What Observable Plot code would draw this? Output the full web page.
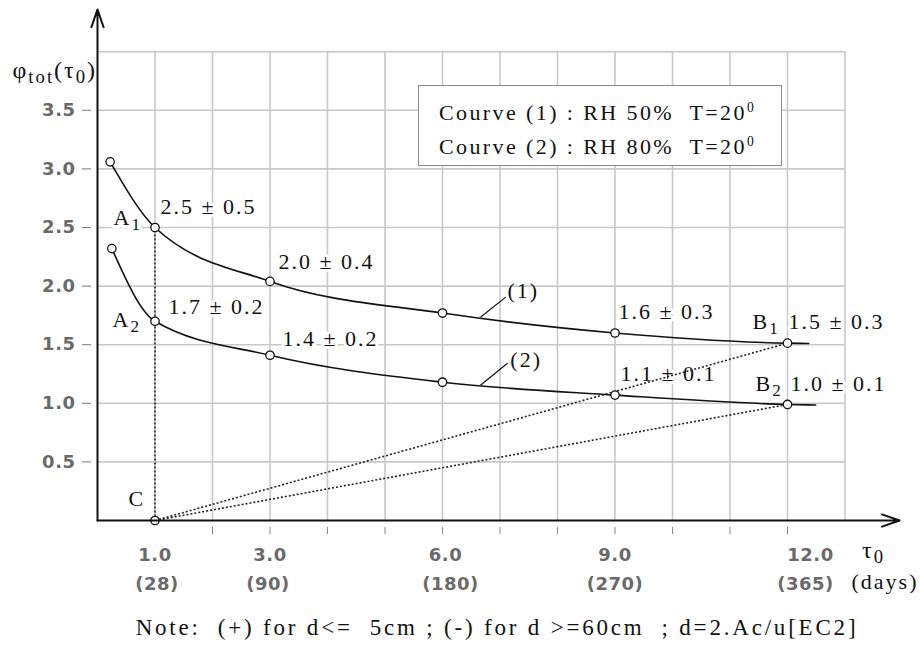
<!DOCTYPE html>
<html><head><meta charset="utf-8">
<script src="https://cdn.jsdelivr.net/npm/d3@7"></script>
<script src="https://cdn.jsdelivr.net/npm/@observablehq/plot@0.6"></script>
<style>
body{margin:0;background:#fff;}
#wrap{position:relative;width:920px;height:653px;}
svg text{white-space:pre;}
g[font-family="Liberation Serif"] text{letter-spacing:2px;}
g[font-family="DejaVu Sans"] text{letter-spacing:0.5px;}
#legend{position:absolute;left:418px;top:85px;border:1.5px solid #8a8a8a;background:#fff;
  font-family:"Liberation Serif";font-size:22px;letter-spacing:2.4px;color:#111;padding:11px 0 0 20px;box-sizing:border-box;width:364px;height:81px;white-space:pre;}
#legend .ln{line-height:31px;}
#legend sup{font-size:62%;vertical-align:baseline;position:relative;top:-0.6em;}
</style></head>
<body><div id="wrap"></div>
<script>
// ---- data ----
const tauTicks = [1, 3, 6, 9, 12];          // labelled tau0 (months)
const dayTicks = [28, 90, 180, 270, 365];   // same ticks in days
const xMinorTicks = [2, 3, 4, 5, 6, 7, 8, 9, 10, 11, 12];
const yTicks = [0.5, 1.0, 1.5, 2.0, 2.5, 3.0, 3.5];
const xGrid = [1, 2, 3, 4, 5, 6, 7, 8, 9, 10, 11, 12, 13];
const yGrid = [0.5, 1.0, 1.5, 2.0, 2.5, 3.0, 3.5, 4.0];

// curve (1): RH 50%
const curve1Tau = [0.22, 1, 3, 6, 9, 12];
const curve1Phi = [3.06, 2.5, 2.04, 1.77, 1.6, 1.513];
const curve1TailTau = 12.37, curve1TailPhi = 1.51;
// curve (2): RH 80%
const curve2Tau = [0.25, 1, 3, 6, 9, 12];
const curve2Phi = [2.32, 1.7, 1.41, 1.18, 1.07, 0.99];
const curve2TailTau = 12.49, curve2TailPhi = 0.985;

// value labels (mean ± spread) at tau = 1, 3, 9, 12
const labelTau = [1, 3, 9, 12];
const curve1Mean = [2.5, 2.0, 1.6, 1.5];
const curve1Err  = [0.5, 0.4, 0.3, 0.3];
const curve2Mean = [1.7, 1.4, 1.1, 1.0];
const curve2Err  = [0.2, 0.2, 0.1, 0.1];

const pointC = {tau: 1, phi: 0};

// ---- layout (pixel offsets for annotations) ----
const c1LabelDx = [5.5, 8.5, 3.5, 1],   c1LabelDy = [-20.5, -19, -21, -21.5];
const c2LabelDx = [13.5, 12.5, 5.5, 3], c2LabelDy = [-14.5, -16.5, -21, -20.7];
const tickLabelDx = [0, 0, 3, 0, 23], dayLabelDx = [2, -2, 8, 0, 18];

const c1 = curve1Tau.map((t, i) => ({tau: t, phi: curve1Phi[i]}));
const c2 = curve2Tau.map((t, i) => ({tau: t, phi: curve2Phi[i]}));
const c1Line = [...c1, {tau: curve1TailTau, phi: curve1TailPhi}];
const c2Line = [...c2, {tau: curve2TailTau, phi: curve2TailPhi}];
const at = (pts, t) => pts.find(p => p.tau === t);
const A1 = at(c1, 1), A2 = at(c2, 1), B1 = at(c1, 12), B2 = at(c2, 12);

const serif = {fontFamily: "Liberation Serif", fontSize: 22, fill: "#111", textAnchor: "start"};
const halo = {stroke: "white", strokeWidth: 6, paintOrder: "stroke"};
const sans = {fontFamily: "DejaVu Sans", fontSize: 18, fontWeight: "bold", fill: "#6a6a6a"};

const valueLabels = [];
labelTau.forEach((t, i) => {
  const p1 = at(c1, t), p2 = at(c2, t);
  valueLabels.push(Plot.text([p1], {x: "tau", y: "phi", text: () => `${curve1Mean[i].toFixed(1)} ± ${curve1Err[i].toFixed(1)}`,
    dx: c1LabelDx[i], dy: c1LabelDy[i], ...serif, ...halo}));
  valueLabels.push(Plot.text([p2], {x: "tau", y: "phi", text: () => `${curve2Mean[i].toFixed(1)} ± ${curve2Err[i].toFixed(1)}`,
    dx: c2LabelDx[i], dy: c2LabelDy[i], ...serif, ...halo}));
});
const pointLabels = [
  {p: A1, name: "A_{1}", dx: -41.5, dy: -9.5},
  {p: A2, name: "A_{2}", dx: -42.5, dy: -1},
  {p: B1, name: "B_{1}", dx: -35, dy: -21.5},
  {p: B2, name: "B_{2}", dx: -32, dy: -20.7},
  {p: pointC, name: "C", dx: -26.5, dy: -22}
].map(d => Plot.text([d.p], {x: "tau", y: "phi", text: () => d.name, dx: d.dx, dy: d.dy, ...serif, ...halo}));

// curve name leaders "(1)" and "(2)"
const leaders = [
  {name: "(1)", x1: 6.66, y1: 1.735, x2: 7.10, y2: 1.906, lx: 7.13, ly: 1.958},
  {name: "(2)", x1: 6.66, y1: 1.154, x2: 7.13, y2: 1.342, lx: 7.18, ly: 1.368}
];

const dotted = [A1, B1, B2].map(p => ({x1: pointC.tau, y1: pointC.phi, x2: p.tau, y2: p.phi}));

const svg = Plot.plot({
  width: 920, height: 653,
  marginLeft: 97, marginRight: 18, marginTop: 9, marginBottom: 133,
  x: {domain: [0, 14]},
  y: {domain: [0, 4.36]},
  style: {background: "white", overflow: "visible"},
  marks: [
    Plot.ruleX(xGrid, {x: d => d, y1: 0, y2: 4, stroke: "#c8c8c8", strokeWidth: 1.6}),
    Plot.ruleY(yGrid, {y: d => d, x1: 0, x2: 13, stroke: "#c8c8c8", strokeWidth: 1.6}),
    Plot.line(c1Line, {x: "tau", y: "phi", curve: "monotone-x", stroke: "#111", strokeWidth: 1.6}),
    Plot.line(c2Line, {x: "tau", y: "phi", curve: "monotone-x", stroke: "#111", strokeWidth: 1.6}),
    ...valueLabels,
    ...pointLabels,
    Plot.link(leaders, {x1: "x1", y1: "y1", x2: "x2", y2: "y2", stroke: "#111", strokeWidth: 1.2}),
    Plot.text(leaders, {x: "lx", y: "ly", text: "name", ...serif}),
    Plot.link(dotted, {x1: "x1", y1: "y1", x2: "x2", y2: "y2", stroke: "#222", strokeWidth: 1.6, strokeDasharray: "2,2"}),
    Plot.dot(c1, {x: "tau", y: "phi", r: 4.2, fill: "white", stroke: "#111", strokeWidth: 1.3}),
    Plot.dot(c2, {x: "tau", y: "phi", r: 4.2, fill: "white", stroke: "#111", strokeWidth: 1.3}),
    Plot.dot([pointC], {x: "tau", y: "phi", r: 4.2, fill: "white", stroke: "#111", strokeWidth: 1.3}),
    Plot.axisY({ticks: yTicks, tickSize: 9, tickPadding: 7, dx: -6, tickFormat: d3.format(".1f"), stroke: "#777",
      fill: "#6a6a6a", fontSize: 18, fontWeight: "bold", fontFamily: "DejaVu Sans", label: null}),
    Plot.axisX({ticks: xMinorTicks, tickSize: 7, dy: 7, fill: "none", stroke: "#888", label: null}),
    ...tauTicks.map((t, i) => Plot.text([t], {x: d => d, frameAnchor: "bottom", dy: 40, dx: tickLabelDx[i], text: d => d.toFixed(1), ...sans})),
    ...dayTicks.map((d, i) => Plot.text([tauTicks[i]], {x: v => v, frameAnchor: "bottom", dy: 69, dx: dayLabelDx[i], text: () => `(${d})`, ...sans})),
    Plot.arrow([{x1: 0, y1: 0, x2: 13.95, y2: 0}, {x1: 0, y1: 0, x2: 0, y2: 4.36}],
      {x1: "x1", y1: "y1", x2: "x2", y2: "y2", stroke: "#111", strokeWidth: 2, headLength: 14, headAngle: 38}),
    Plot.text(["φ_{tot}(τ_{0})"], {frameAnchor: "top-left", text: d => d, dx: -85, dy: 51, ...serif, fontSize: 24, textAnchor: "start"}),
    Plot.text(["τ_{0}"], {frameAnchor: "bottom-right", text: d => d, dx: -29, dy: 37, ...serif, fontSize: 24, textAnchor: "middle"}),
    Plot.text(["(days)"], {frameAnchor: "bottom-right", text: d => d, dx: 16, dy: 68, ...serif, textAnchor: "end"}),
    Plot.text(["Note:  (+) for d<=  5cm ; (-) for d >=60cm  ; d=2.Ac/u[EC2]"], {frameAnchor: "bottom", text: d => d, dx: -3, dy: 114, ...serif, fontSize: 23, textAnchor: "middle"})
  ]
});

// rich text: _{...} subscript, ^{...} superscript; wider spacing for the note line
d3.select(svg).selectAll("text").each(function() {
  const t = this.textContent;
  if (t.startsWith("Note:")) this.style.letterSpacing = "2.8px";
  if (!/[_^]\{/.test(t)) return;
  const parts = t.split(/([_^]\{[^}]*\})/);
  this.textContent = "";
  for (const p of parts) {
    if (!p) continue;
    const m = p.match(/^([_^])\{(.*)\}$/);
    const ts = document.createElementNS("http://www.w3.org/2000/svg", "tspan");
    if (m) {
      ts.textContent = m[2];
      ts.setAttribute("font-size", "78%");
      ts.setAttribute("baseline-shift", m[1] === "_" ? "-28%" : "40%");
    } else ts.textContent = p;
    this.appendChild(ts);
  }
});

const wrap = document.getElementById("wrap");
wrap.append(svg);
const legend = document.createElement("div");
legend.id = "legend";
legend.innerHTML = `<div class="ln">Courve (1) : RH 50%  T=20<sup>0</sup></div><div class="ln">Courve (2) : RH 80%  T=20<sup>0</sup></div>`;
wrap.append(legend);
</script>
</body></html>
